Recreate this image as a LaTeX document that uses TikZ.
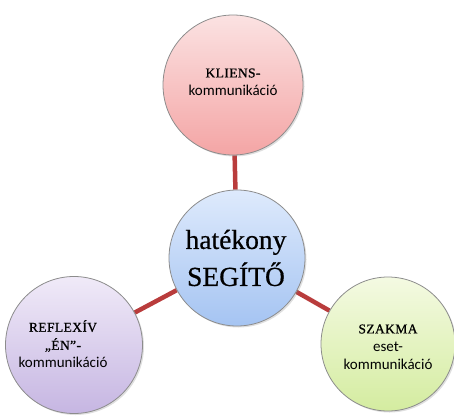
\documentclass[tikz,border=0pt]{standalone}
\usepackage{fontspec}
\setmainfont{Liberation Serif}
\newfontfamily\tms[FakeBold=0.6]{Liberation Serif}
\newfontfamily\tmsw[LetterSpace=3,FakeBold=0.8]{Liberation Serif}
\newfontfamily\carl{Carlito}
\usetikzlibrary{shadows,backgrounds}
\definecolor{linkred}{RGB}{185,60,60}
\definecolor{rimgray}{RGB}{140,140,140}
\tikzset{
  bubble/.style={circle, draw=rimgray, line width=0.8pt, align=center,
    drop shadow={shadow xshift=1.5pt, shadow yshift=-1.5pt, opacity=0.25}},
  pinkb/.style={bubble, top color={rgb,255:red,251;green,226;blue,226}, bottom color={rgb,255:red,244;green,165;blue,165}},
  blueb/.style={bubble, top color={rgb,255:red,222;green,234;blue,252}, bottom color={rgb,255:red,165;green,196;blue,242}},
  purpb/.style={bubble, top color={rgb,255:red,240;green,234;blue,248}, bottom color={rgb,255:red,198;green,182;blue,226}},
  greenb/.style={bubble, top color={rgb,255:red,244;green,250;blue,226}, bottom color={rgb,255:red,212;green,236;blue,160}},
  conn/.style={draw=linkred, line width=4.5pt},
  lbl/.style={align=center, inner sep=0pt, font=\tmsw\fontsize{13.5pt}{18pt}\selectfont},
  biglbl/.style={align=center, inner sep=0pt, font=\tms\fontsize{27.5pt}{37pt}\selectfont}
}
\newcommand{\sanstxt}[1]{{\carl\fontsize{15pt}{18pt}\selectfont #1}}
\begin{document}
\begin{tikzpicture}[x=1pt,y=-1pt]
\useasboundingbox (0,0) rectangle (454,417);
\node[pinkb, minimum size=140pt] (klien) at (233,85) {};
\node[blueb, minimum size=136pt] (seg) at (237,258) {};
\node[purpb, minimum size=137pt] (refl) at (74,345) {};
\node[greenb, minimum size=134pt] (szak) at (388,344) {};
\node[lbl] (tklien) at (233,82) {KLIENS-\\\sanstxt{kommunikáció}};
\node[biglbl] (tseg) at (236,258) {hatékony\\SEGÍTŐ};
\node[lbl] (trefl) at (63,344) {REFLEXÍV\\„ÉN”-\\\sanstxt{kommunikáció}};
\node[lbl] (tszak) at (388,347) {SZAKMA\\\sanstxt{eset-}\\\sanstxt{kommunikáció}};
\begin{scope}[on background layer]
\draw[conn] (klien) -- (seg);
\draw[conn] (seg) -- (refl);
\draw[conn] (seg) -- (szak);
\end{scope}
\end{tikzpicture}
\end{document}
